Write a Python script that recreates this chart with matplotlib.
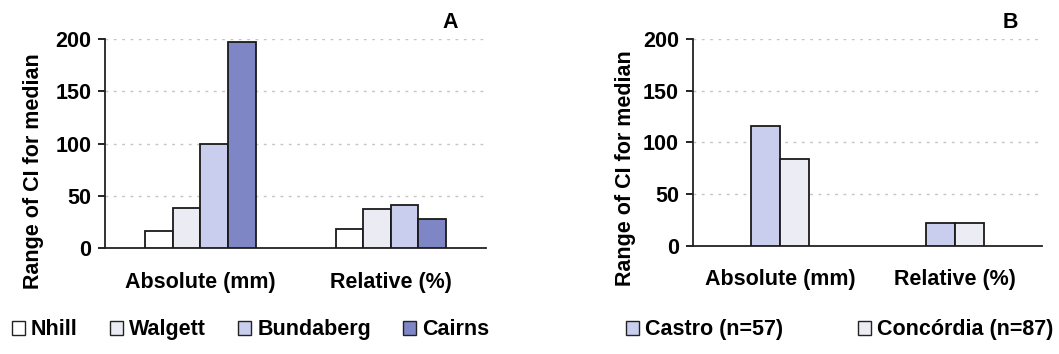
import numpy as np
import matplotlib
matplotlib.use("Agg")
import matplotlib.pyplot as plt
from matplotlib.patches import Patch

plt.rcParams['font.family'] = ['Liberation Sans', 'DejaVu Sans']
plt.rcParams['font.weight'] = 'bold'

# datos
categorias = ['Absolute (mm)', 'Relative (%)']

sitios_a = ['Nhill', 'Walgett', 'Bundaberg', 'Cairns']
valores_a = {
    'Nhill': [16, 18],
    'Walgett': [38, 37],
    'Bundaberg': [100, 41],
    'Cairns': [197, 28],
}
colores_a = ['#ffffff', '#ebebf3', '#c9cdee', '#7f86c6']

sitios_b = ['Castro (n=57)', 'Concórdia (n=87)']
valores_b = {
    'Castro (n=57)': [116, 22],
    'Concórdia (n=87)': [84, 22],
}
colores_b = ['#c9cdee', '#ececf4']

yticks = [0, 50, 100, 150, 200]

FS = 15.5

fig = plt.figure(figsize=(10.59, 3.54), dpi=100)
ax_a = fig.add_axes([0.0992, 0.2994, 0.3598, 0.5904])
ax_b = fig.add_axes([0.6544, 0.3060, 0.3296, 0.5838])


def dibujar_panel(ax, sitios, valores, colores, ancho, letra, letra_x, lab_x, lab_y):
    x = np.arange(len(categorias))
    n = len(sitios)
    for i, s in enumerate(sitios):
        pos = x + (i - (n - 1) / 2) * ancho
        ax.bar(pos, valores[s], width=ancho, color=colores[i],
               edgecolor='#1a1a1a', linewidth=1.3, zorder=3)
    ax.set_xlim(-0.5, 1.5)
    ax.set_ylim(0, 200)
    ax.set_yticks(yticks)
    ax.set_yticklabels([str(t) for t in yticks], fontsize=FS, fontweight='bold')
    ax.set_xticks(x)
    ax.set_xticklabels(categorias, fontsize=FS, fontweight='bold')
    ax.tick_params(axis='x', length=0, pad=17)
    ax.tick_params(axis='y', length=5, width=1.2, direction='out', pad=5)
    for sp in ['top', 'right']:
        ax.spines[sp].set_visible(False)
    for sp in ['left', 'bottom']:
        ax.spines[sp].set_linewidth(1.3)
        ax.spines[sp].set_color('#222222')
    ax.yaxis.grid(True, linestyle=(0, (2, 4)), color='#c4c4c4', linewidth=1.0, zorder=0)
    ax.set_axisbelow(True)
    ax.set_ylabel('Range of CI for median', fontsize=FS, fontweight='bold')
    ax.yaxis.set_label_coords(lab_x, lab_y)
    fig.text(letra_x, 0.937, letra, fontsize=FS, fontweight='bold', ha='center', va='center')


dibujar_panel(ax_a, sitios_a, valores_a, colores_a, 0.145, 'A', 0.425, -0.16, 0.37)
dibujar_panel(ax_b, sitios_b, valores_b, colores_b, 0.166, 'B', 0.954, -0.163, 0.375)

handles_a = [Patch(facecolor=c, edgecolor='#222222', linewidth=1.0) for c in colores_a]
fig.legend(handles_a, sitios_a, loc='center left', bbox_to_anchor=(0.0115, 0.068),
           ncol=4, frameon=False, handlelength=0.6, handleheight=0.6,
           handletextpad=0.28, columnspacing=1.5, borderaxespad=0, borderpad=0,
           prop={'weight': 'bold', 'size': FS})

handles_b = [Patch(facecolor=c, edgecolor='#222222', linewidth=1.0) for c in colores_b]
fig.legend(handles_b, sitios_b, loc='center left', bbox_to_anchor=(0.591, 0.068),
           ncol=2, frameon=False, handlelength=0.6, handleheight=0.6,
           handletextpad=0.28, columnspacing=3.5, borderaxespad=0, borderpad=0,
           prop={'weight': 'bold', 'size': FS})

fig.savefig('out.png', dpi=100)
